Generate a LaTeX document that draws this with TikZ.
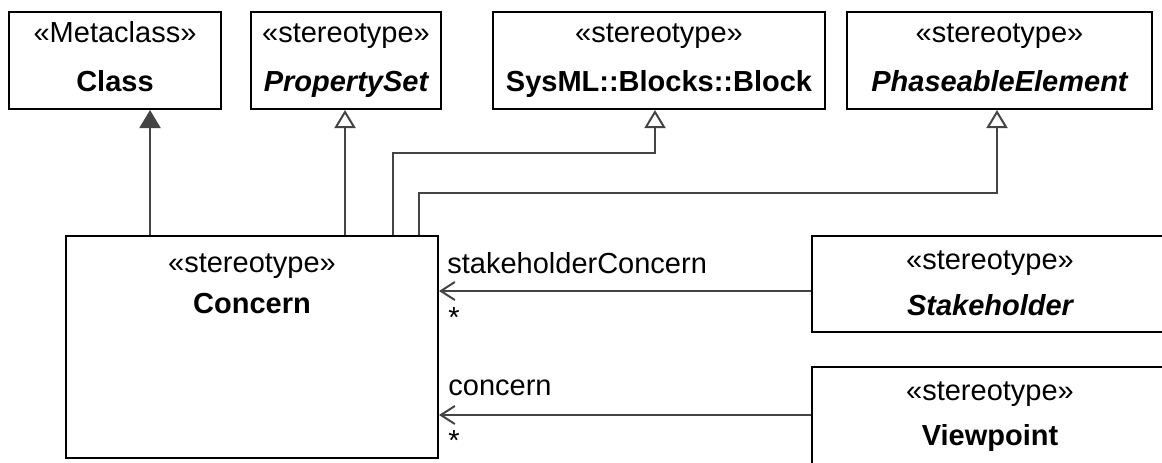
\documentclass[tikz,border=0pt]{standalone}
\usepackage{fontspec}
\setmainfont{Liberation Sans}
\usetikzlibrary{arrows.meta}
\definecolor{linegray}{HTML}{444444}
\begin{document}
\begin{tikzpicture}[x=0.5pt,y=-0.5pt,
  umlbox/.style={draw=black, line width=1pt, fill=white, rectangle, inner sep=0pt},
  txt/.style={font=\fontsize{14.5}{17}\selectfont, inner sep=0pt, anchor=base},
  lbl/.style={font=\fontsize{14.5}{17}\selectfont, inner sep=0pt, anchor=base west},
  conn/.style={draw=linegray, line width=1pt},
  genfilled/.style={conn, -{Triangle[length=9pt,width=10.5pt,fill=linegray]}},
  genopen/.style={conn, -{Triangle[open,length=9pt,width=10.5pt,fill=white]}},
  assoc/.style={conn, -{Straight Barb[length=7pt,width=9pt]}},
]
\useasboundingbox (0,0) rectangle (1162,462);
\clip (0,0) rectangle (1162,462);

% boxes
\node[umlbox, minimum width=106pt, minimum height=48.5pt] (Class) at (115,60.5) {};
\node[umlbox, minimum width=95pt, minimum height=48.5pt] (PropertySet) at (346,60.5) {};
\node[umlbox, minimum width=166pt, minimum height=48.5pt] (Block) at (659,60.5) {};
\node[umlbox, minimum width=152.5pt, minimum height=48.5pt] (Phaseable) at (999.5,60.5) {};
\node[umlbox, minimum width=186pt, minimum height=111pt] (Concern) at (252,347) {};
\node[umlbox, minimum width=178pt, minimum height=48pt] (Stakeholder) at (990,284) {};
\node[umlbox, minimum width=178pt, minimum height=55pt] (Viewpoint) at (990,422) {};

% texts
\node[txt] (t1a) at (115,42) {«Metaclass»};
\node[txt] (t1b) at (115,91) {\bfseries Class};
\node[txt] (t2a) at (346,42) {«stereotype»};
\node[txt] (t2b) at (346,91) {\bfseries\itshape PropertySet};
\node[txt] (t3a) at (659,42) {«stereotype»};
\node[txt] (t3b) at (659,91) {\bfseries SysML::Blocks::Block};
\node[txt] (t4a) at (999.5,42) {«stereotype»};
\node[txt] (t4b) at (999.5,91) {\bfseries\itshape PhaseableElement};
\node[txt] (t5a) at (252,272) {«stereotype»};
\node[txt] (t5b) at (252,313) {\bfseries Concern};
\node[txt] (t6a) at (990,269) {«stereotype»};
\node[txt] (t6b) at (990,315) {\bfseries\itshape Stakeholder};
\node[txt] (t7a) at (990,400) {«stereotype»};
\node[txt] (t7b) at (990,445) {\bfseries Viewpoint};

% helper coordinates
\coordinate (cx1) at (150,0);
\coordinate (cx2) at (345,0);
\coordinate (s1) at (393,153);
\coordinate (s2) at (655,0);
\coordinate (p1) at (419,193);
\coordinate (p2) at (997,0);
\coordinate (a1) at (0,291);
\coordinate (a2) at (0,415);

% generalizations
\draw[genfilled] (Concern.north -| cx1) -- (Class.south -| cx1);
\draw[genopen] (Concern.north -| cx2) -- (PropertySet.south -| cx2);
\draw[genopen] (Concern.north -| s1) -- (s1) -| (Block.south -| s2);
\draw[genopen] (Concern.north -| p1) -- (p1) -| (Phaseable.south -| p2);

% associations
\draw[assoc] (Stakeholder.west |- a1) -- (Concern.east |- a1);
\draw[assoc] (Viewpoint.west |- a2) -- (Concern.east |- a2);

% labels
\node[lbl] (l1) at (447,273) {stakeholderConcern};
\node[lbl] (l1m) at (448,327) {*};
\node[lbl] (l2) at (448,395) {concern};
\node[lbl] (l2m) at (448,450) {*};
\end{tikzpicture}
\end{document}
